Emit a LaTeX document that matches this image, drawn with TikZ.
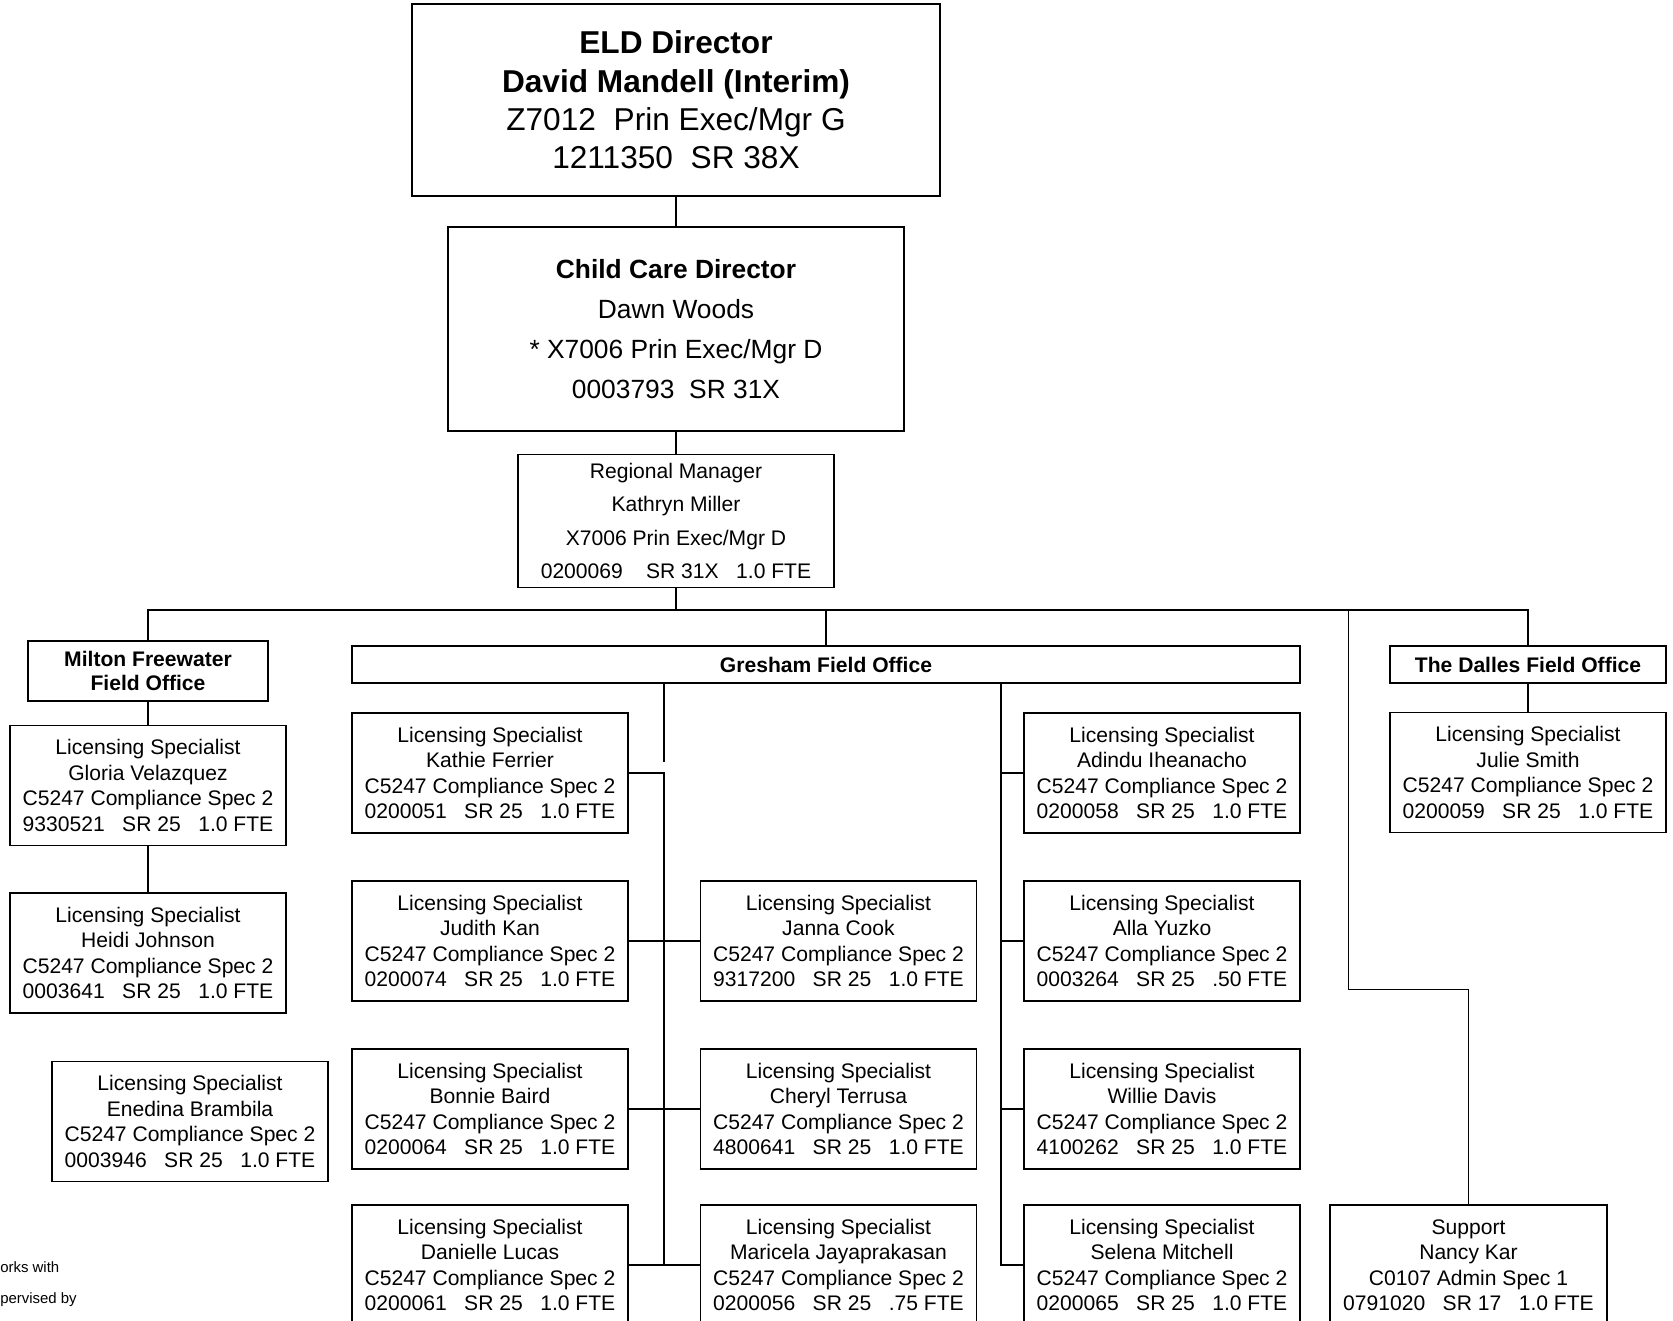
\documentclass[tikz,border=0pt]{standalone}
\usepackage{fontspec}
\setmainfont{Liberation Sans}
\usepackage{tikz}
\newcommand{\fsep}{\hspace{0.83em}}
\newcommand{\lic}[3]{Licensing Specialist\\#1\\C5247 Compliance Spec 2\\#2\fsep SR 25\fsep #3 FTE}

\begin{document}
\begin{tikzpicture}[x=0.02cm,y=-0.02cm,font=\fontsize{12}{14.5}\selectfont,
    orgbox/.style={draw,line width=1pt,inner sep=0pt,outer sep=0pt,align=center},
    lsbox/.style={orgbox,minimum width=5.52cm,minimum height=2.4cm,font=\fontsize{12}{14.5}\selectfont},
    hdbox/.style={orgbox,minimum height=0.73cm,font=\bfseries\fontsize{12}{14.5}\selectfont},
    link/.style={line width=0.8pt}]
      \useasboundingbox (0,0) rectangle (1673,1321);
      \clip (0,0) rectangle (1673,1321);
      \node[orgbox,minimum width=10.56cm,minimum height=3.84cm,font=\fontsize{18}{21.8}\selectfont] (eld) at (676,100) {\textbf{ELD Director}\\\textbf{David Mandell (Interim)}\\Z7012\hspace{.56em}Prin Exec/Mgr G\\1211350\hspace{.56em}SR 38X};
      \node[orgbox,minimum width=9.12cm,minimum height=4.09cm,font=\fontsize{15}{22.7}\selectfont] (ccd) at (676,329) {\textbf{Child Care Director}\\Dawn Woods\\* X7006 Prin Exec/Mgr D\\0003793\hspace{.56em}SR 31X};
      \node[orgbox,minimum width=6.31cm,minimum height=2.66cm,font=\fontsize{12}{19.1}\selectfont] (rm) at (676,521) {Regional Manager\\Kathryn Miller\\X7006 Prin Exec/Mgr D\\0200069\hspace{1.1em}SR 31X\fsep 1.0 FTE};
      \node[hdbox,minimum width=4.81cm,minimum height=1.2cm,font=\bfseries\fontsize{12}{13.6}\selectfont] (mf) at (148,671) {Milton Freewater\\Field Office};
      \node[lsbox] (gv) at (148,785.5) {\lic{Gloria Velazquez}{9330521}{1.0}};
      \node[lsbox] (hj) at (148,953) {\lic{Heidi Johnson}{0003641}{1.0}};
      \node[lsbox] (eb) at (190,1121.5) {\lic{Enedina Brambila}{0003946}{1.0}};
      \node[hdbox,minimum width=18.96cm] (gfo) at (826,664.5) {Gresham Field Office};
      \node[lsbox] (kf) at (490,773) {\lic{Kathie Ferrier}{0200051}{1.0}};
      \node[lsbox] (jk) at (490,941) {\lic{Judith Kan}{0200074}{1.0}};
      \node[lsbox] (bb) at (490,1109) {\lic{Bonnie Baird}{0200064}{1.0}};
      \node[lsbox] (dl) at (490,1265) {\lic{Danielle Lucas}{0200061}{1.0}};
      \node[lsbox] (jc) at (838.5,941) {\lic{Janna Cook}{9317200}{1.0}};
      \node[lsbox] (ct) at (838.5,1109) {\lic{Cheryl Terrusa}{4800641}{1.0}};
      \node[lsbox] (mj) at (838.5,1265) {\lic{Maricela Jayaprakasan}{0200056}{.75}};
      \node[lsbox] (ai) at (1162,773) {\lic{Adindu Iheanacho}{0200058}{1.0}};
      \node[lsbox] (ay) at (1162,941) {\lic{Alla Yuzko}{0003264}{.50}};
      \node[lsbox] (wd) at (1162,1109) {\lic{Willie Davis}{4100262}{1.0}};
      \node[lsbox] (sm) at (1162,1265) {\lic{Selena Mitchell}{0200065}{1.0}};
      \node[hdbox,minimum width=5.52cm] (tdfo) at (1528,664.5) {The Dalles Field Office};
      \node[lsbox] (js) at (1528,772.5) {\lic{Julie Smith}{0200059}{1.0}};
      \node[lsbox,minimum width=5.54cm] (nk) at (1468.5,1265) {Support\\Nancy Kar\\C0107 Admin Spec 1\\0791020\fsep SR 17\fsep 1.0 FTE};
      \node[anchor=west,inner sep=0pt,font=\fontsize{8.5}{10}\selectfont] (wk) at (0,1267) {orks with};
      \node[anchor=west,inner sep=0pt,font=\fontsize{8.5}{10}\selectfont] (sv) at (0,1300) {pervised by};
      \coordinate (bus) at (676,610);
      \coordinate (sbend) at (1348,989);
      \coordinate (lstub) at (664,762);
      \coordinate (rtrunk) at (1001,683);
      \draw[link] (eld) -- (ccd);
      \draw[link] (ccd) -- (rm);
      \draw[link] (rm) -- (bus);
      \draw[link] (mf.north) |- (bus) -| (tdfo.north);
      \draw[link] (gfo.north) -- (gfo.north |- bus);
      \draw[line width=0.5pt] (sbend |- bus) -- (sbend) -| (nk.north);
      \draw[link] (mf) -- (gv);
      \draw[link] (gv) -- (hj);
      \draw[link] (tdfo) -- (js);
      \draw[link] (gfo.south -| lstub) -- (lstub);
      \draw[link] (kf.east) -| (dl.east -| lstub);
      \draw[link] (jk) -- (jc);
      \draw[link] (bb) -- (ct);
      \draw[link] (dl) -- (mj);
      \draw[link] (gfo.south -| rtrunk) |- (sm.west);
      \draw[link] (ai.west -| rtrunk) -- (ai.west);
      \draw[link] (ay.west -| rtrunk) -- (ay.west);
      \draw[link] (wd.west -| rtrunk) -- (wd.west);
    \end{tikzpicture}
\end{document}
